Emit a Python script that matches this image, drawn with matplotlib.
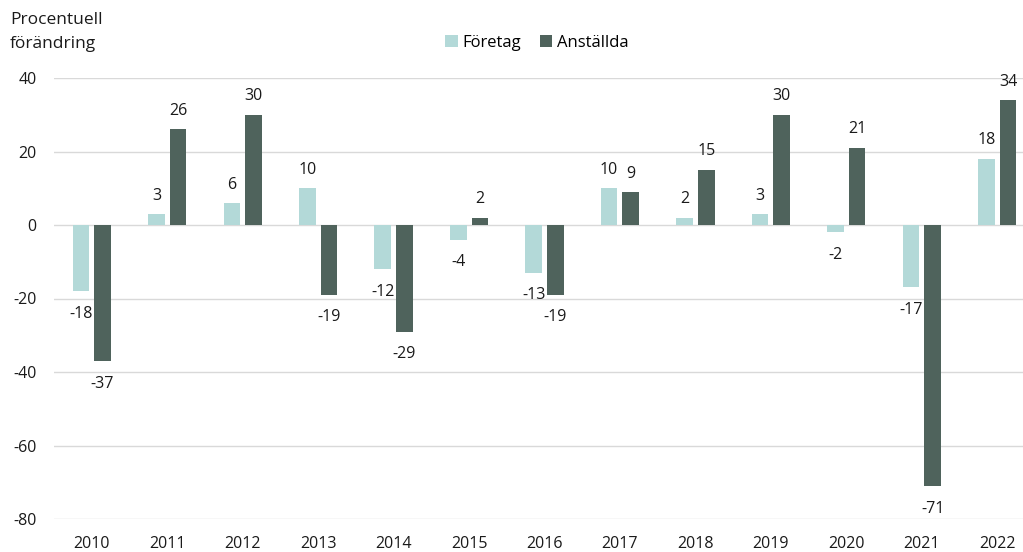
import matplotlib.pyplot as plt
import numpy as np

plt.rcParams['font.family'] = ['Open Sans', 'DejaVu Sans']
plt.rcParams['axes.unicode_minus'] = False

years = ['2010', '2011', '2012', '2013', '2014', '2015', '2016',
         '2017', '2018', '2019', '2020', '2021', '2022']
foretag = [-18, 3, 6, 10, -12, -4, -13, 10, 2, 3, -2, -17, 18]
anstallda = [-37, 26, 30, -19, -29, 2, -19, 9, 15, 30, 21, -71, 34]

light = '#b3d9d8'
dark = '#4f635c'
txt = '#1a1a1a'

fig = plt.figure(figsize=(10.23, 5.52), dpi=100)
# axis runs a little past the right edge, like the original
ax = fig.add_axes([54 / 1023, 1 - 519 / 552, 981 / 1023, 441 / 552])

x = np.arange(len(years))
w = 0.22
off = 0.143
b1 = ax.bar(x - off, foretag, w, color=light, label='Företag', zorder=3)
b2 = ax.bar(x + off, anstallda, w, color=dark, label='Anställda', zorder=3)

for bars, vals in [(b1, foretag), (b2, anstallda)]:
    for bar, v in zip(bars, vals):
        cx = bar.get_x() + bar.get_width() / 2
        if v >= 0:
            ax.annotate(str(v), (cx, v), xytext=(0, 7.5), textcoords='offset points',
                        ha='center', va='bottom', fontsize=11.5, color=txt)
        else:
            ax.annotate(str(v), (cx, v), xytext=(0, -10.5), textcoords='offset points',
                        ha='center', va='top', fontsize=11.5, color=txt)

ax.set_xlim(-0.5, len(years) - 0.5)
ax.set_ylim(-80, 40)
ax.set_yticks(range(-80, 41, 20))
ax.set_xticks(x)
ax.set_xticklabels(years)
ax.yaxis.grid(True, color='#d9d9d9', lw=1, zorder=0)
ax.tick_params(length=0, labelsize=11.5, colors=txt)
ax.tick_params(axis='y', pad=12.5)
ax.tick_params(axis='x', pad=12)
for s in ax.spines.values():
    s.set_visible(False)

fig.text(10 / 1023, 1 - 32 / 552, 'Procentuell\nförändring', fontsize=12.5,
         va='center', ha='left', color=txt, linespacing=1.65)
fig.legend(handles=[b1, b2], loc='center', bbox_to_anchor=(537 / 1023, 1 - 43 / 552),
           ncol=2, frameon=False, fontsize=12, handlelength=0.75, handleheight=0.75,
           handletextpad=0.3, columnspacing=1.1)

fig.savefig('out.png', dpi=100)
